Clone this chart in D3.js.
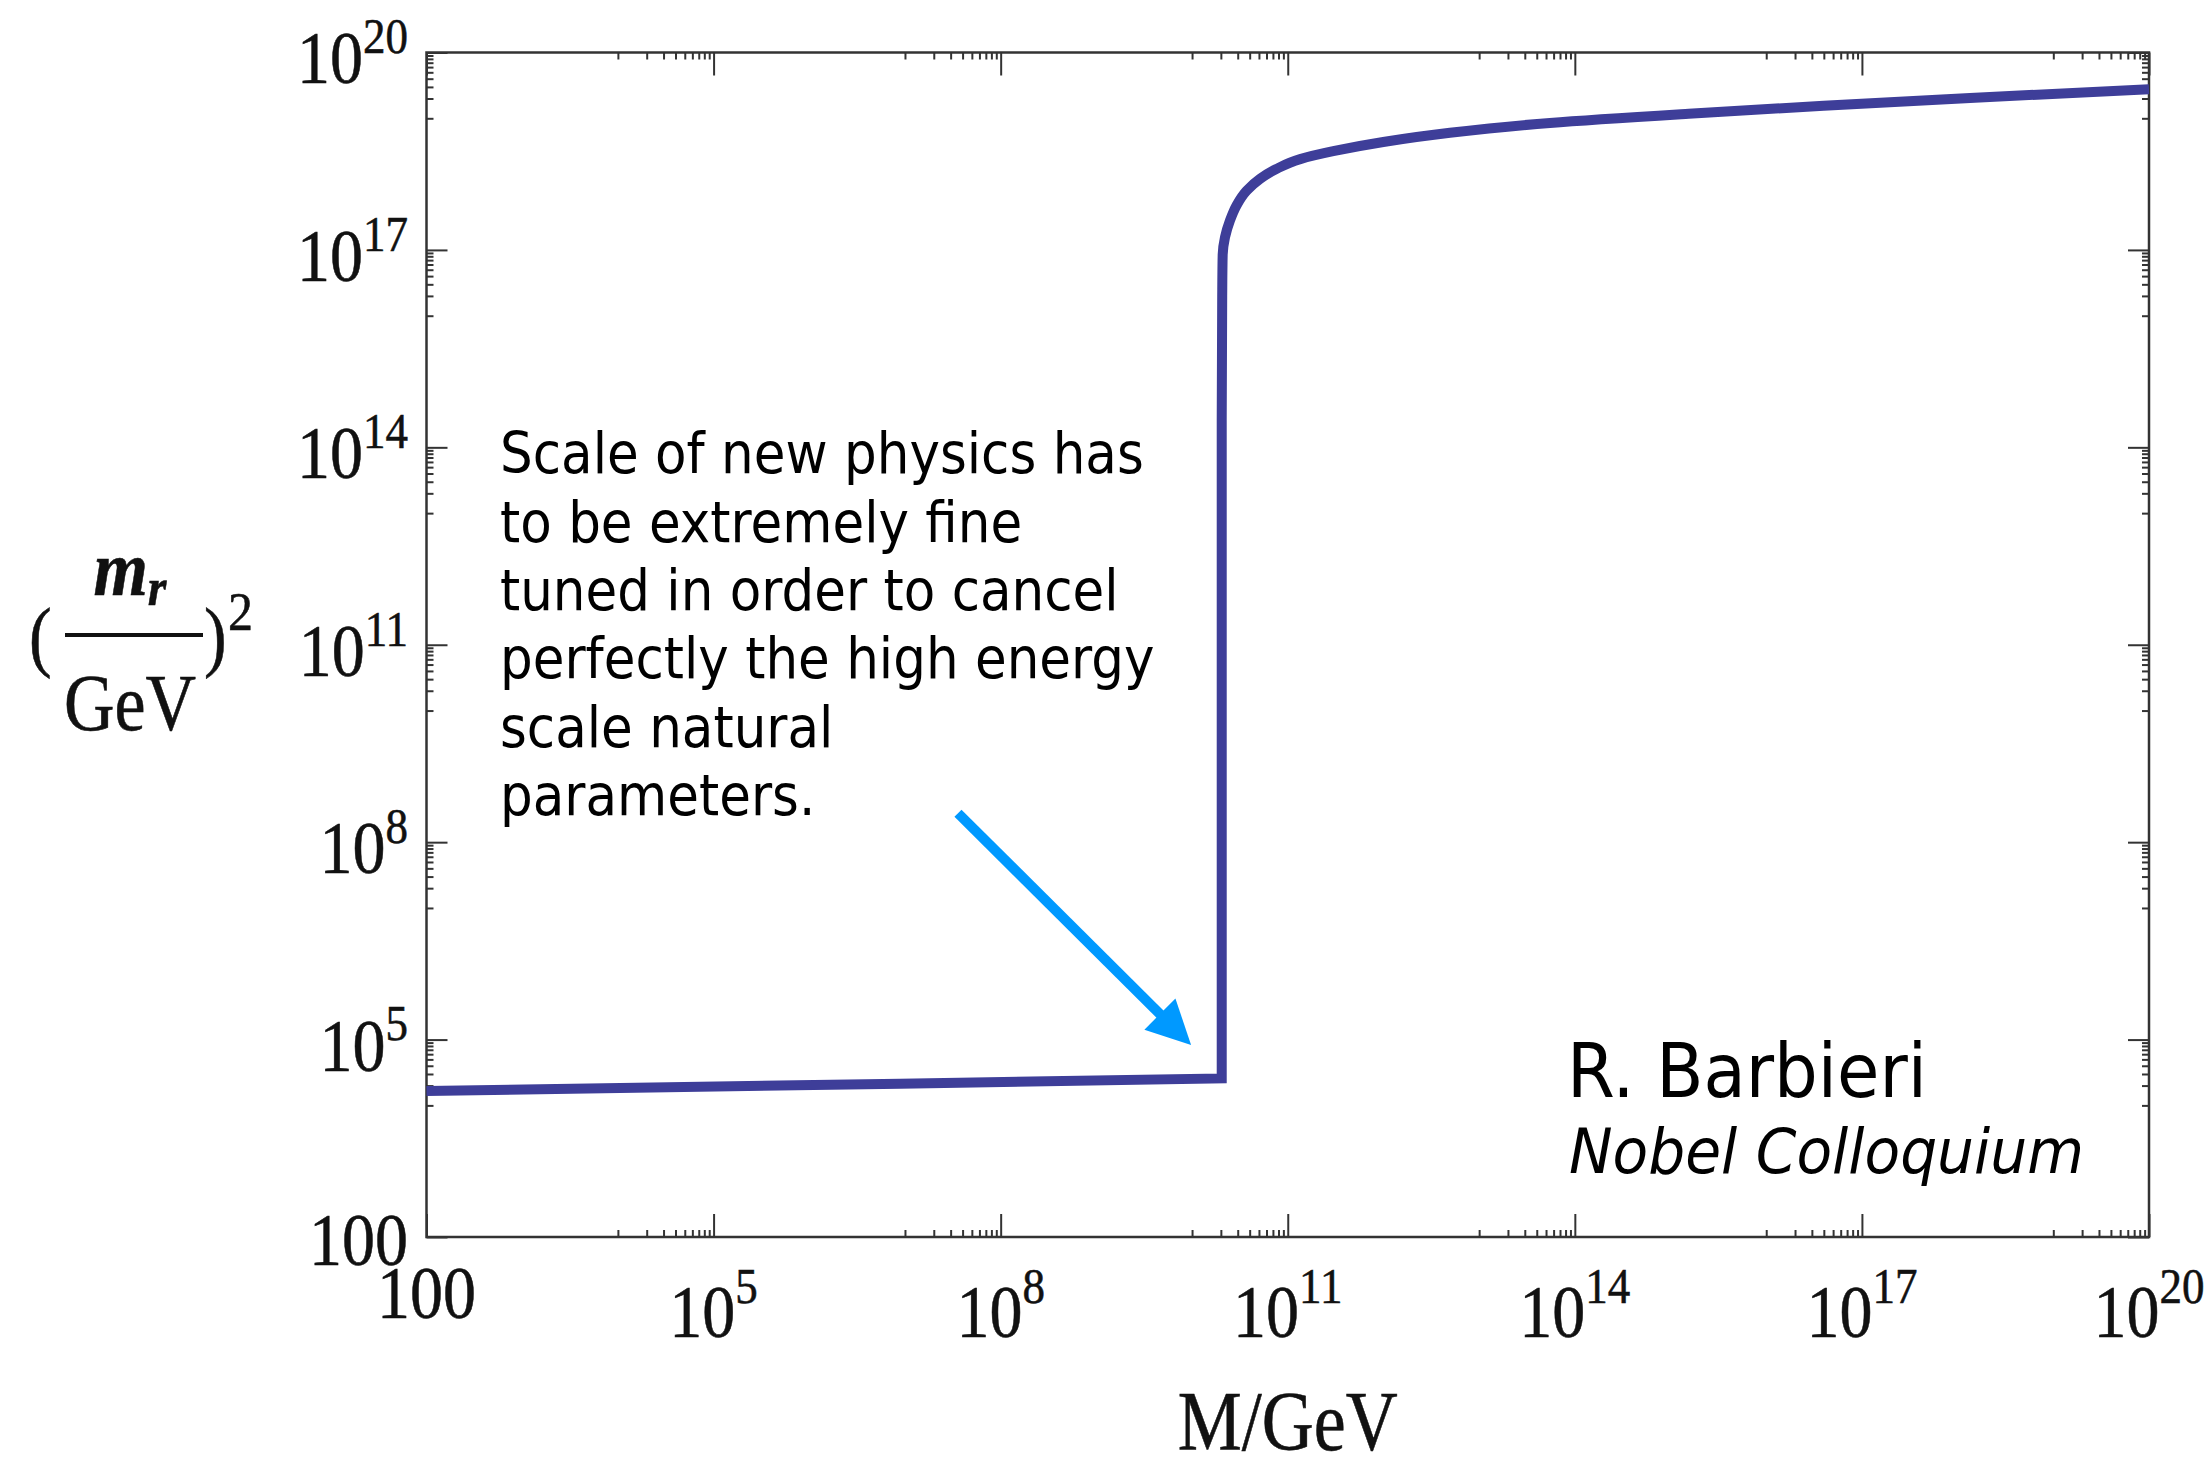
<!DOCTYPE html>
<html>
<head>
<meta charset="utf-8">
<script src="https://cdn.jsdelivr.net/npm/d3@7"></script>
<style>
  html, body { margin: 0; padding: 0; background: #fff; }
  svg { display: block; }
</style>
</head>
<body>
<div id="chart"></div>
<script>
// Data (log10 values)
const logMass = [2, 6.95, 10.31, 10.31, 10.315, 10.32, 10.344, 10.397, 10.466, 10.571,
  10.71, 10.88, 11.13, 11.475, 11.998, 12.695, 13.74, 15.19, 16.6, 18.13, 20];
const logMr2 = [4.22, 4.33, 4.41, 14.41, 16.3, 16.93, 17.19, 17.45, 17.68, 17.9,
  18.08, 18.23, 18.38, 18.5, 18.64, 18.78, 18.93, 19.07, 19.19, 19.31, 19.44];
const cornerIndex = 2; // where the flat part turns straight up

// Axis ticks
const majorExponents = [2, 5, 8, 11, 14, 17, 20];

// Annotations
const noteLines = [
  "Scale of new physics has",
  "to be extremely fine",
  "tuned in order to cancel",
  "perfectly the high energy",
  "scale natural",
  "parameters.",
];
const creditName = "R. Barbieri";
const creditEvent = "Nobel Colloquium";
const arrowFrom = [7.554, 8.44]; // log10 M, log10 y
const arrowTo = [9.99, 4.916];

// Layout
const width = 2207;
const height = 1464;
const margin = { top: 52.5, right: 58, bottom: 227, left: 426.5 };
const serif = "'Liberation Serif', 'Times New Roman', serif";
const sans = "'DejaVu Sans', Verdana, sans-serif";

const svg = d3
  .select("#chart")
  .append("svg")
  .attr("width", width)
  .attr("height", height);

const x = d3
  .scaleLog()
  .domain([1e2, 1e20])
  .range([margin.left, width - margin.right]);
const y = d3
  .scaleLog()
  .domain([1e2, 1e20])
  .range([height - margin.bottom, margin.top]);

const majorTicks = majorExponents.map((e) => 10 ** e);
const minorTicks = majorExponents
  .filter((e) => e > 2)
  .flatMap((e) => d3.range(1, 10).map((k) => k * 10 ** (e - 1)));

// Frame
svg
  .append("rect")
  .attr("x", margin.left)
  .attr("y", margin.top)
  .attr("width", width - margin.left - margin.right)
  .attr("height", height - margin.top - margin.bottom)
  .attr("fill", "none")
  .attr("stroke", "#333")
  .attr("stroke-width", 2.5);

const styleAxis = (g) => {
  g.select(".domain").remove();
  g.selectAll("text").remove();
  g.selectAll("line").attr("stroke", "#333").attr("stroke-width", 2);
};

const addAxis = (axisFn, scale, transform, ticks, size) => {
  svg
    .append("g")
    .attr("transform", transform)
    .call(axisFn(scale).tickValues(ticks).tickSize(-size).tickSizeOuter(0).tickFormat(""))
    .call(styleAxis);
};

const bottomY = height - margin.bottom;
const rightX = width - margin.right;
[
  [majorTicks, 23, 21],
  [minorTicks, 7, 7],
].forEach(([ticks, sx, sy]) => {
  addAxis(d3.axisBottom, x, `translate(0,${bottomY})`, ticks, sx);
  addAxis(d3.axisTop, x, `translate(0,${margin.top})`, ticks, sx);
  addAxis(d3.axisLeft, y, `translate(${margin.left},0)`, ticks, sy);
  addAxis(d3.axisRight, y, `translate(${rightX},0)`, ticks, sy);
});

// Serif text, stretched vertically like the reference
const stretchedText = (px, py, anchor, s) =>
  svg
    .append("g")
    .attr("transform", `translate(${px},${py}) scale(1,${s})`)
    .append("text")
    .attr("text-anchor", anchor)
    .attr("font-family", serif)
    .attr("fill", "#111")
    .attr("stroke", "#111")
    .attr("stroke-width", 0.5);

const powerLabel = (text, e, baseSize, supSize, supDy) => {
  if (e === 2) {
    text.attr("font-size", baseSize).text("100");
    return;
  }
  text.append("tspan").attr("font-size", baseSize).text("10");
  text.append("tspan").attr("font-size", supSize).attr("dy", supDy).text(e);
};

const labelStretch = 1.13;

// Y tick labels
majorExponents.forEach((e) => {
  const t = stretchedText(margin.left - 18.5, y(10 ** e), "end", labelStretch).attr(
    "y",
    e === 2 ? 24.8 : 27.4,
  );
  powerLabel(t, e, 66, 45, -26.7);
});

// X tick labels
majorExponents.forEach((e) => {
  const t = stretchedText(x(10 ** e), bottomY, "middle", labelStretch).attr(
    "y",
    e === 2 ? 72 : 88.2,
  );
  powerLabel(t, e, 66, 45, -29.5);
});

// Axis titles
stretchedText((margin.left + rightX) / 2, 1450, "middle", 1.18)
  .attr("font-size", 72)
  .text("M/GeV");

stretchedText(29, 662, "start", 1.15).attr("font-size", 68).text("(");
stretchedText(204, 662, "start", 1.15).attr("font-size", 68).text(")");
stretchedText(228, 630, "start", 1.1).attr("font-size", 50).text("2");
const mr = stretchedText(130, 595, "middle", 1.12)
  .attr("font-size", 70)
  .attr("font-style", "italic")
  .attr("font-weight", "bold");
mr.append("tspan").text("m");
mr.append("tspan").attr("font-size", 48).attr("dy", 9).text("r");
svg
  .append("line")
  .attr("x1", 65)
  .attr("x2", 203)
  .attr("y1", 635)
  .attr("y2", 635)
  .attr("stroke", "#111")
  .attr("stroke-width", 4);
stretchedText(130, 730, "middle", 1.15).attr("font-size", 70).text("GeV");

// Curve: smooth rise above the corner, straight flat part below it
const curveData = logMass.map((m, i) => ({ m: 10 ** m, v: 10 ** logMr2[i] }));
const upper = curveData.slice(cornerIndex).reverse();
const flat = curveData.slice(0, cornerIndex + 1).reverse();
const upperPath = d3
  .line()
  .x((d) => x(d.m))
  .y((d) => y(d.v))
  .curve(d3.curveMonotoneY)(upper);
const flatPath = flat
  .slice(1)
  .map((d) => `L${x(d.m)},${y(d.v)}`)
  .join("");
svg
  .append("path")
  .attr("fill", "none")
  .attr("stroke", "#3e3e99")
  .attr("stroke-width", 10)
  .attr("stroke-linejoin", "miter")
  .attr("d", upperPath + flatPath);

// Arrow
const [ax0, ay0] = [x(10 ** arrowFrom[0]), y(10 ** arrowFrom[1])];
const [ax1, ay1] = [x(10 ** arrowTo[0]), y(10 ** arrowTo[1])];
const len = Math.hypot(ax1 - ax0, ay1 - ay0);
const ux = (ax1 - ax0) / len;
const uy = (ay1 - ay0) / len;
const headLen = 44;
const headHalf = 22;
const bx = ax1 - ux * headLen;
const by = ay1 - uy * headLen;
svg
  .append("line")
  .attr("x1", ax0)
  .attr("y1", ay0)
  .attr("x2", bx + ux * 4)
  .attr("y2", by + uy * 4)
  .attr("stroke", "#0099ff")
  .attr("stroke-width", 10);
svg
  .append("polygon")
  .attr("fill", "#0099ff")
  .attr(
    "points",
    [
      [ax1, ay1],
      [bx - uy * headHalf, by + ux * headHalf],
      [bx + uy * headHalf, by - ux * headHalf],
    ]
      .map((p) => p.join(","))
      .join(" "),
  );

// Sans-serif text blocks, squeezed horizontally to the reference widths
const sansBlock = (lines, left, baseline0, step, size, targetWidth, italic) => {
  const g = svg.append("g");
  const texts = lines.map((line, i) =>
    g
      .append("text")
      .attr("x", 0)
      .attr("y", baseline0 + i * step)
      .attr("font-family", sans)
      .attr("font-size", size)
      .attr("font-style", italic ? "italic" : "normal")
      .attr("fill", "#000")
      .text(line),
  );
  const measured = texts[0].node().getComputedTextLength();
  const sx = measured > 0 ? targetWidth / measured : 0.9;
  g.attr("transform", `translate(${left},0) scale(${sx},1)`);
};

sansBlock(noteLines, 500, 473.3, 68.4, 57, 644, false);
sansBlock([creditName], 1567, 1097, 0, 74, 360, false);
sansBlock([creditEvent], 1569, 1173, 0, 62, 515, true);
</script>
</body>
</html>
